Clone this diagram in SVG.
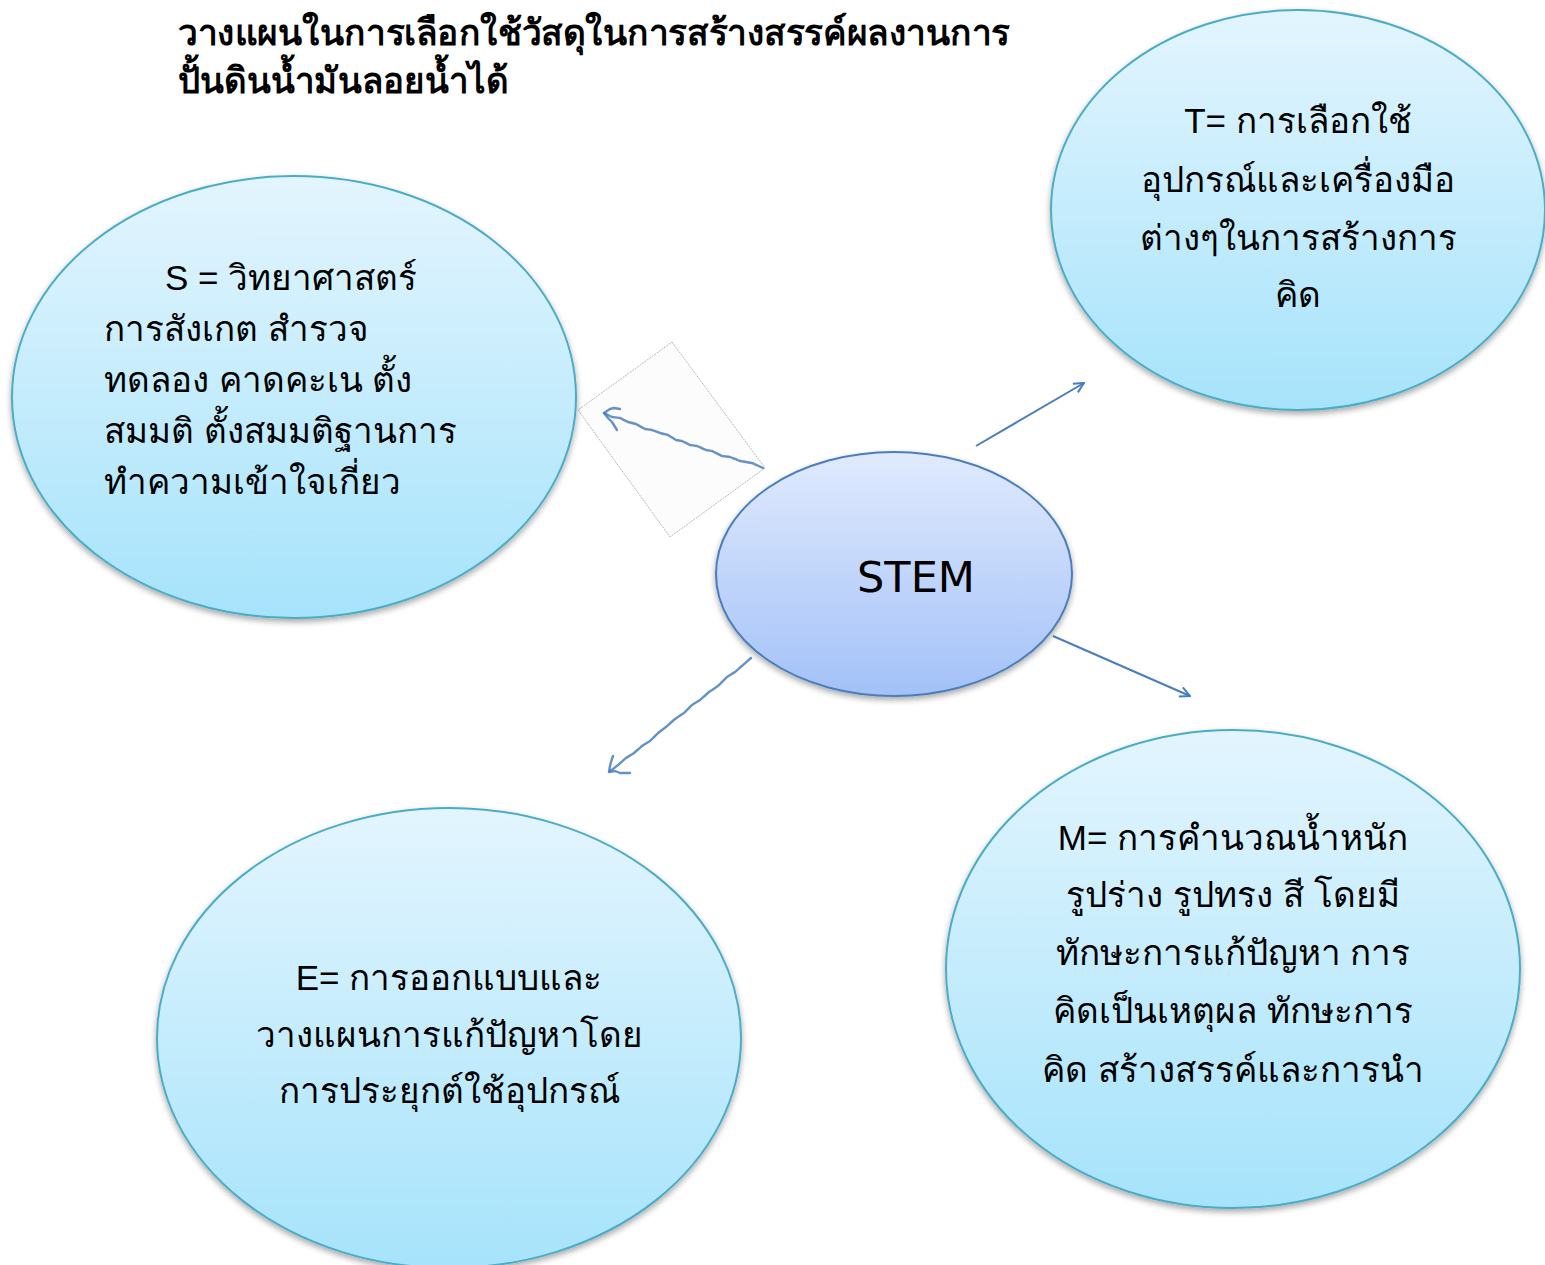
<svg xmlns="http://www.w3.org/2000/svg" width="1545" height="1265" viewBox="0 0 1545 1265">
<style>
.th{font-family:"Liberation Sans","Noto Sans","Noto Sans CJK SC",sans-serif;font-size:35px;fill:#000}
.c{text-anchor:middle}
.title{font-family:"Liberation Sans","Noto Sans",sans-serif;font-size:36px;font-weight:bold;fill:#000}
.node{stroke:#4bacc6;stroke-width:2;fill:url(#gc)}
.conn{stroke:#4a7ebb;stroke-width:2;fill:none}
.sk{stroke:#4a7ebb;stroke-width:2.4;fill:none;stroke-linecap:round;stroke-linejoin:round;opacity:0.85}
</style>
<defs>
<linearGradient id="gc" x1="0" y1="0" x2="0" y2="1">
<stop offset="0" stop-color="#e3f5fe"/>
<stop offset="1" stop-color="#a6e3fb"/>
</linearGradient>
<linearGradient id="gs" x1="0" y1="0" x2="0" y2="1">
<stop offset="0" stop-color="#e0eafd"/>
<stop offset="1" stop-color="#a3c1f8"/>
</linearGradient>
<filter id="sh" x="-10%" y="-10%" width="120%" height="125%">
<feGaussianBlur in="SourceAlpha" stdDeviation="3"/>
<feOffset dx="0" dy="3" result="b"/>
<feComponentTransfer><feFuncA type="linear" slope="0.35"/></feComponentTransfer>
<feMerge><feMergeNode/><feMergeNode in="SourceGraphic"/></feMerge>
</filter>
<marker id="ah" viewBox="0 0 12 12" refX="11" refY="6" markerWidth="12" markerHeight="12" markerUnits="userSpaceOnUse" orient="auto">
<path d="M1,1 L11,6 L1,11" fill="none" stroke="#4a7ebb" stroke-width="2"/>
</marker>
</defs>
<rect width="1545" height="1265" fill="#fff"/>

<g id="title">
<text class="title" x="178" y="45" textLength="832" lengthAdjust="spacingAndGlyphs">วางแผนในการเลือกใช้วัสดุในการสร้างสรรค์ผลงานการ</text>
<text class="title" x="178" y="93" textLength="330" lengthAdjust="spacingAndGlyphs">ปั้นดินน้ำมันลอยน้ำได้</text>
</g>

<g id="connectors">
<path d="M672,342 L765,468 L670,537 L578,410 Z" fill="#fcfcfc" stroke="#b8b8b8" stroke-width="1" stroke-dasharray="2,1"/>
<path class="sk" stroke-dasharray="6,1,3,1" d="M763,468 L752,463 L740,461 L730,457 L722,456 L712,451 L706,450 L697,446 L690,445 L682,441 L676,440 L668,435 L660,433 L652,430 L645,429 L636,424 L628,422 L620,418 L612,417 L604,413"/>
<path class="sk" d="M604,413 L610,409 L614,408 L620,409 M604,413 L608,418 L612,422 L617,430"/>
<path class="sk" stroke-dasharray="6,1,3,1" d="M751,658 L743,665 L735,672 L727,677 L718,686 L709,692 L700,700 L692,705 L684,713 L675,719 L666,727 L658,733 L650,741 L642,746 L634,753 L626,758 L618,765 L609,772"/>
<path class="sk" d="M609,772 L610,766 L611,762 L613,756 M609,772 L615,771 L620,773 L630,773"/>
<line class="conn" x1="976" y1="446" x2="1084" y2="383" marker-end="url(#ah)"/>
<line class="conn" x1="1053" y1="636" x2="1190" y2="696" marker-end="url(#ah)"/>
</g>

<g id="node-S">
<ellipse class="node" cx="294" cy="397" rx="282" ry="221" filter="url(#sh)"/>
<text class="th" x="165" y="290">S = วิทยาศาสตร์</text>
<text class="th" x="104" y="341">การสังเกต สำรวจ</text>
<text class="th" x="104" y="392">ทดลอง คาดคะเน ตั้ง</text>
<text class="th" x="104" y="443">สมมติ ตั้งสมมติฐานการ</text>
<text class="th" x="104" y="494">ทำความเข้าใจเกี่ยว</text>
</g>

<g id="node-T">
<ellipse class="node" cx="1298" cy="210" rx="247" ry="200" filter="url(#sh)"/>
<text class="th c" x="1298" y="133">T= การเลือกใช้</text>
<text class="th c" x="1298" y="192">อุปกรณ์และเครื่องมือ</text>
<text class="th c" x="1298" y="250">ต่างๆในการสร้างการ</text>
<text class="th c" x="1298" y="307">คิด</text>
</g>

<g id="node-STEM">
<ellipse cx="894" cy="574" rx="178" ry="122" fill="url(#gs)" stroke="#4a7ebb" stroke-width="2" filter="url(#sh)"/>
<text x="916" y="592" text-anchor="middle" font-family="'DejaVu Sans',sans-serif" font-size="43" fill="#000">STEM</text>
</g>

<g id="node-E">
<ellipse class="node" cx="449" cy="1038" rx="292" ry="230" filter="url(#sh)"/>
<text class="th c" x="449" y="990">E= การออกแบบและ</text>
<text class="th c" x="449" y="1047">วางแผนการแก้ปัญหาโดย</text>
<text class="th c" x="449" y="1103">การประยุกต์ใช้อุปกรณ์</text>
</g>

<g id="node-M">
<ellipse class="node" cx="1233" cy="969" rx="287" ry="239" filter="url(#sh)"/>
<text class="th c" x="1233" y="850">M= การคำนวณน้ำหนัก</text>
<text class="th c" x="1233" y="907">รูปร่าง รูปทรง สี โดยมี</text>
<text class="th c" x="1233" y="965">ทักษะการแก้ปัญหา การ</text>
<text class="th c" x="1233" y="1023">คิดเป็นเหตุผล ทักษะการ</text>
<text class="th c" x="1233" y="1082">คิด สร้างสรรค์และการนำ</text>
</g>
</svg>
